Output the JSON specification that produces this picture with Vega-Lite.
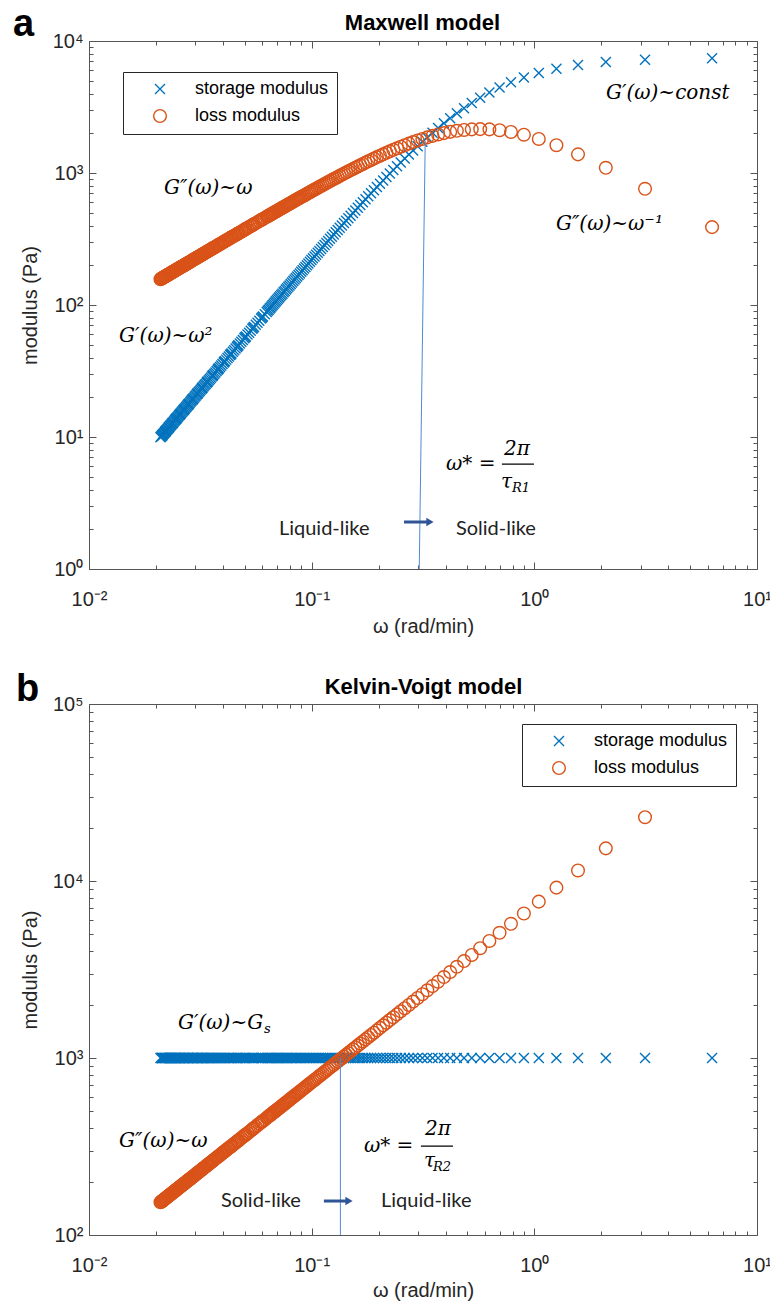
{
"$schema":"https://vega.github.io/schema/vega-lite/v6.json",
"padding":{"left":12,"top":5,"right":5,"bottom":5},
"bounds":"flush",
"spacing":135,
"config":{
 "view":{"stroke":"#555555","strokeWidth":1},
 "axis":{"labelFont":"Liberation Sans","labelFontSize":20,"labelColor":"#262626","tickColor":"#555555","tickWidth":1,"domain":false,"grid":false,"titleFont":"Liberation Sans","titleFontSize":20,"titleFontWeight":"normal","titleColor":"#262626","labelOverlap":false,"labelFlush":false}
},
"datasets":{
 "omega":[
{"w":6.2832,"sa":7388,"la":388.9,"sb":1000,"lb":45867},
{"w":3.1416,"sa":7210,"la":759.1,"sb":1000,"lb":22934},
{"w":2.0944,"sa":6931,"la":1094.6,"sb":1000,"lb":15289},
{"w":1.5708,"sa":6575,"la":1384.5,"sb":1000,"lb":11467},
{"w":1.2566,"sa":6167,"la":1623.3,"sb":1000,"lb":9173},
{"w":1.0472,"sa":5733,"la":1810.8,"sb":1000,"lb":7645},
{"w":0.8976,"sa":5293,"la":1950.3,"sb":1000,"lb":6552},
{"w":0.7854,"sa":4862,"la":2047.4,"sb":1000,"lb":5733},
{"w":0.6981,"sa":4451,"la":2108.8,"sb":1000,"lb":5096},
{"w":0.6283,"sa":4067,"la":2140.9,"sb":1000,"lb":4587},
{"w":0.5712,"sa":3713,"la":2150.0,"sb":1000,"lb":4170},
{"w":0.5236,"sa":3390,"la":2141.3,"sb":1000,"lb":3822},
{"w":0.4833,"sa":3097,"la":2119.2,"sb":1000,"lb":3528},
{"w":0.4488,"sa":2832,"la":2087.3,"sb":1000,"lb":3276},
{"w":0.4189,"sa":2594,"la":2048.5,"sb":1000,"lb":3058},
{"w":0.3927,"sa":2380.5,"la":2005.0,"sb":1000,"lb":2867},
{"w":0.3696,"sa":2188.5,"la":1958.6,"sb":1000,"lb":2698},
{"w":0.3491,"sa":2016.1,"la":1910.4,"sb":1000,"lb":2548},
{"w":0.3307,"sa":1861.1,"la":1861.5,"sb":1000,"lb":2414},
{"w":0.3142,"sa":1721.5,"la":1812.5,"sb":1000,"lb":2293},
{"w":0.2992,"sa":1595.8,"la":1764.1,"sb":1000,"lb":2184},
{"w":0.2856,"sa":1482.2,"la":1716.6,"sb":1000,"lb":2085},
{"w":0.2732,"sa":1379.5,"la":1670.2,"sb":1000,"lb":1994},
{"w":0.2618,"sa":1286.3,"la":1625.2,"sb":1000,"lb":1911},
{"w":0.2513,"sa":1201.8,"la":1581.6,"sb":1000,"lb":1835},
{"w":0.2417,"sa":1124.8,"la":1539.5,"sb":1000,"lb":1764},
{"w":0.2327,"sa":1054.6,"la":1498.9,"sb":1000,"lb":1699},
{"w":0.2244,"sa":990.4,"la":1459.9,"sb":1000,"lb":1638},
{"w":0.2167,"sa":931.7,"la":1422.4,"sb":1000,"lb":1582},
{"w":0.2094,"sa":877.8,"la":1386.3,"sb":1000,"lb":1529},
{"w":0.2027,"sa":828.3,"la":1351.7,"sb":1000,"lb":1480},
{"w":0.1963,"sa":782.7,"la":1318.5,"sb":1000,"lb":1433},
{"w":0.1904,"sa":740.6,"la":1286.6,"sb":1000,"lb":1390},
{"w":0.1848,"sa":701.7,"la":1256.0,"sb":1000,"lb":1349},
{"w":0.1795,"sa":665.7,"la":1226.6,"sb":1000,"lb":1311},
{"w":0.1745,"sa":632.4,"la":1198.4,"sb":1000,"lb":1274},
{"w":0.1698,"sa":601.4,"la":1171.3,"sb":1000,"lb":1240},
{"w":0.1653,"sa":572.5,"la":1145.3,"sb":1000,"lb":1207},
{"w":0.1611,"sa":545.7,"la":1120.3,"sb":1000,"lb":1176},
{"w":0.1571,"sa":520.6,"la":1096.3,"sb":1000,"lb":1147},
{"w":0.15325,"sa":497.2,"la":1073.1,"sb":1000,"lb":1118.7},
{"w":0.1496,"sa":475.3,"la":1050.9,"sb":1000,"lb":1092},
{"w":0.14612,"sa":454.8,"la":1029.5,"sb":1000,"lb":1066.7},
{"w":0.1428,"sa":435.5,"la":1008.8,"sb":1000,"lb":1042},
{"w":0.13963,"sa":417.5,"la":989.0,"sb":1000,"lb":1019.3},
{"w":0.1366,"sa":400.5,"la":969.8,"sb":1000,"lb":997},
{"w":0.13368,"sa":384.5,"la":951.3,"sb":1000,"lb":975.9},
{"w":0.1309,"sa":369.4,"la":933.5,"sb":1000,"lb":956},
{"w":0.12823,"sa":355.2,"la":916.3,"sb":1000,"lb":936.1},
{"w":0.1257,"sa":341.8,"la":899.6,"sb":1000,"lb":917},
{"w":0.1232,"sa":329.1,"la":883.6,"sb":1000,"lb":899.4},
{"w":0.1208,"sa":317.1,"la":868.0,"sb":1000,"lb":882},
{"w":0.11855,"sa":305.7,"la":853.0,"sb":1000,"lb":865.4},
{"w":0.1164,"sa":295.0,"la":838.5,"sb":1000,"lb":849},
{"w":0.11424,"sa":284.7,"la":824.4,"sb":1000,"lb":834.0},
{"w":0.1122,"sa":275.0,"la":810.8,"sb":1000,"lb":819},
{"w":0.11023,"sa":265.8,"la":797.6,"sb":1000,"lb":804.7},
{"w":0.1083,"sa":257.0,"la":784.8,"sb":1000,"lb":791},
{"w":0.10649,"sa":248.7,"la":772.4,"sb":1000,"lb":777.4},
{"w":0.1047,"sa":240.7,"la":760.4,"sb":1000,"lb":764},
{"w":0.103,"sa":233.1,"la":748.7,"sb":1000,"lb":751.9},
{"w":0.1013,"sa":225.9,"la":737.3,"sb":1000,"lb":740},
{"w":0.09973,"sa":219.0,"la":726.3,"sb":1000,"lb":728.0},
{"w":0.09817,"sa":212.4,"la":715.6,"sb":1000,"lb":717},
{"w":0.09666,"sa":206.1,"la":705.2,"sb":1000,"lb":705.6},
{"w":0.0952,"sa":200.1,"la":695.1,"sb":1000,"lb":695},
{"w":0.09378,"sa":194.3,"la":685.3,"sb":1000,"lb":684.6},
{"w":0.0924,"sa":188.8,"la":675.7,"sb":1000,"lb":675},
{"w":0.09106,"sa":183.5,"la":666.4,"sb":1000,"lb":664.7},
{"w":0.08976,"sa":178.4,"la":657.4,"sb":1000,"lb":655},
{"w":0.0885,"sa":173.5,"la":648.6,"sb":1000,"lb":646.0},
{"w":0.08727,"sa":168.8,"la":640.0,"sb":1000,"lb":637},
{"w":0.08607,"sa":164.3,"la":631.6,"sb":1000,"lb":628.3},
{"w":0.08491,"sa":160.0,"la":623.4,"sb":1000,"lb":620},
{"w":0.08378,"sa":155.9,"la":615.4,"sb":1000,"lb":611.6},
{"w":0.08267,"sa":151.9,"la":607.7,"sb":1000,"lb":604},
{"w":0.0816,"sa":148.0,"la":600.1,"sb":1000,"lb":595.7},
{"w":0.08055,"sa":144.3,"la":592.7,"sb":1000,"lb":588},
{"w":0.07953,"sa":140.8,"la":585.5,"sb":1000,"lb":580.6},
{"w":0.07854,"sa":137.4,"la":578.4,"sb":1000,"lb":573},
{"w":0.07757,"sa":134.0,"la":571.6,"sb":1000,"lb":566.3},
{"w":0.07662,"sa":130.9,"la":564.8,"sb":1000,"lb":559},
{"w":0.0757,"sa":127.8,"la":558.3,"sb":1000,"lb":552.6},
{"w":0.0748,"sa":124.8,"la":551.8,"sb":1000,"lb":546},
{"w":0.07392,"sa":121.9,"la":545.6,"sb":1000,"lb":539.6},
{"w":0.07306,"sa":119.2,"la":539.4,"sb":1000,"lb":533},
{"w":0.07222,"sa":116.5,"la":533.4,"sb":1000,"lb":527.2},
{"w":0.0714,"sa":113.9,"la":527.6,"sb":1000,"lb":521},
{"w":0.0706,"sa":111.4,"la":521.8,"sb":1000,"lb":515.4},
{"w":0.06981,"sa":108.9,"la":516.2,"sb":1000,"lb":510},
{"w":0.06905,"sa":106.6,"la":510.7,"sb":1000,"lb":504.0},
{"w":0.0683,"sa":104.3,"la":505.3,"sb":1000,"lb":499},
{"w":0.06756,"sa":102.1,"la":500.0,"sb":1000,"lb":493.2},
{"w":0.06684,"sa":100.0,"la":494.8,"sb":1000,"lb":488},
{"w":0.06614,"sa":97.93,"la":489.7,"sb":1000,"lb":482.8},
{"w":0.06545,"sa":95.92,"la":484.8,"sb":1000,"lb":478},
{"w":0.06478,"sa":93.98,"la":479.9,"sb":1000,"lb":472.9},
{"w":0.06411,"sa":92.10,"la":475.1,"sb":1000,"lb":468},
{"w":0.06347,"sa":90.27,"la":470.4,"sb":1000,"lb":463.3},
{"w":0.06283,"sa":88.49,"la":465.9,"sb":1000,"lb":459},
{"w":0.0616,"sa":85.10,"la":456.9,"sb":1000,"lb":449.7},
{"w":0.060415,"sa":81.89,"la":448.3,"sb":1000,"lb":441.0},
{"w":0.05984,"sa":80.35,"la":444.2,"sb":1000,"lb":437},
{"w":0.059275,"sa":78.86,"la":440.1,"sb":1000,"lb":432.7},
{"w":0.058178,"sa":76.00,"la":432.1,"sb":1000,"lb":424.7},
{"w":0.05712,"sa":73.29,"la":424.4,"sb":1000,"lb":417},
{"w":0.0561,"sa":70.72,"la":416.9,"sb":1000,"lb":409.5},
{"w":0.055116,"sa":68.28,"la":409.8,"sb":1000,"lb":402.3},
{"w":0.05464,"sa":67.11,"la":406.3,"sb":1000,"lb":399},
{"w":0.054165,"sa":65.97,"la":402.8,"sb":1000,"lb":395.4},
{"w":0.053247,"sa":63.77,"la":396.1,"sb":1000,"lb":388.7},
{"w":0.05236,"sa":61.68,"la":389.6,"sb":1000,"lb":382},
{"w":0.051502,"sa":59.69,"la":383.3,"sb":1000,"lb":376.0},
{"w":0.050671,"sa":57.79,"la":377.3,"sb":1000,"lb":369.9},
{"w":0.05027,"sa":56.88,"la":374.3,"sb":1000,"lb":367},
{"w":0.049866,"sa":55.99,"la":371.4,"sb":1000,"lb":364.0},
{"w":0.049087,"sa":54.26,"la":365.6,"sb":1000,"lb":358.3},
{"w":0.04833,"sa":52.62,"la":360.1,"sb":1000,"lb":353},
{"w":0.0476,"sa":51.05,"la":354.7,"sb":1000,"lb":347.5},
{"w":0.046889,"sa":49.54,"la":349.5,"sb":1000,"lb":342.3},
{"w":0.04654,"sa":48.82,"la":346.9,"sb":1000,"lb":340},
{"w":0.0462,"sa":48.11,"la":344.4,"sb":1000,"lb":337.3},
{"w":0.04553,"sa":46.73,"la":339.5,"sb":1000,"lb":332.4},
{"w":0.04488,"sa":45.41,"la":334.7,"sb":1000,"lb":328},
{"w":0.044248,"sa":44.15,"la":330.0,"sb":1000,"lb":323.0},
{"w":0.043633,"sa":42.94,"la":325.5,"sb":1000,"lb":318.5},
{"w":0.04333,"sa":42.35,"la":323.3,"sb":1000,"lb":316},
{"w":0.043035,"sa":41.78,"la":321.1,"sb":1000,"lb":314.2},
{"w":0.042454,"sa":40.66,"la":316.8,"sb":1000,"lb":309.9},
{"w":0.04189,"sa":39.59,"la":312.6,"sb":1000,"lb":306},
{"w":0.041337,"sa":38.56,"la":308.6,"sb":1000,"lb":301.8},
{"w":0.0408,"sa":37.57,"la":304.6,"sb":1000,"lb":297.8},
{"w":0.04054,"sa":37.09,"la":302.7,"sb":1000,"lb":296},
{"w":0.040277,"sa":36.62,"la":300.7,"sb":1000,"lb":294.0},
{"w":0.039767,"sa":35.70,"la":297.0,"sb":1000,"lb":290.3},
{"w":0.03927,"sa":34.82,"la":293.3,"sb":1000,"lb":287},
{"w":0.038785,"sa":33.97,"la":289.7,"sb":1000,"lb":283.1},
{"w":0.038312,"sa":33.15,"la":286.2,"sb":1000,"lb":279.7},
{"w":0.03808,"sa":32.75,"la":284.5,"sb":1000,"lb":278},
{"w":0.037851,"sa":32.36,"la":282.8,"sb":1000,"lb":276.3},
{"w":0.0374,"sa":31.60,"la":279.4,"sb":1000,"lb":273.0},
{"w":0.03696,"sa":30.86,"la":276.2,"sb":1000,"lb":270},
{"w":0.03653,"sa":30.15,"la":273.0,"sb":1000,"lb":266.7},
{"w":0.03611,"sa":29.46,"la":269.9,"sb":1000,"lb":263.6},
{"w":0.0359,"sa":29.13,"la":268.4,"sb":1000,"lb":262},
{"w":0.0357,"sa":28.80,"la":266.8,"sb":1000,"lb":260.6},
{"w":0.035299,"sa":28.16,"la":263.9,"sb":1000,"lb":257.7},
{"w":0.03491,"sa":27.54,"la":261.0,"sb":1000,"lb":255},
{"w":0.034523,"sa":26.94,"la":258.1,"sb":1000,"lb":252.0},
{"w":0.034148,"sa":26.36,"la":255.3,"sb":1000,"lb":249.3},
{"w":0.03396,"sa":26.08,"la":253.9,"sb":1000,"lb":248},
{"w":0.033781,"sa":25.80,"la":252.6,"sb":1000,"lb":246.6},
{"w":0.033421,"sa":25.25,"la":249.9,"sb":1000,"lb":244.0},
{"w":0.03307,"sa":24.73,"la":247.3,"sb":1000,"lb":241},
{"w":0.032725,"sa":24.21,"la":244.7,"sb":1000,"lb":238.9},
{"w":0.032388,"sa":23.72,"la":242.2,"sb":1000,"lb":236.4},
{"w":0.03222,"sa":23.48,"la":241.0,"sb":1000,"lb":235},
{"w":0.032057,"sa":23.24,"la":239.8,"sb":1000,"lb":234.0},
{"w":0.031733,"sa":22.77,"la":237.4,"sb":1000,"lb":231.7},
{"w":0.03142,"sa":22.32,"la":235.0,"sb":1000,"lb":229},
{"w":0.031105,"sa":21.88,"la":232.7,"sb":1000,"lb":227.1},
{"w":0.0308,"sa":21.46,"la":230.4,"sb":1000,"lb":224.8},
{"w":0.03065,"sa":21.25,"la":229.3,"sb":1000,"lb":224},
{"w":0.030501,"sa":21.04,"la":228.2,"sb":1000,"lb":222.7},
{"w":0.030208,"sa":20.64,"la":226.0,"sb":1000,"lb":220.5},
{"w":0.02992,"sa":20.25,"la":223.9,"sb":1000,"lb":218},
{"w":0.029638,"sa":19.87,"la":221.8,"sb":1000,"lb":216.4},
{"w":0.029361,"sa":19.50,"la":219.7,"sb":1000,"lb":214.3},
{"w":0.02922,"sa":19.32,"la":218.7,"sb":1000,"lb":213},
{"w":0.029089,"sa":19.15,"la":217.7,"sb":1000,"lb":212.3},
{"w":0.028822,"sa":18.80,"la":215.7,"sb":1000,"lb":210.4},
{"w":0.02856,"sa":18.46,"la":213.8,"sb":1000,"lb":208},
{"w":0.028303,"sa":18.13,"la":211.8,"sb":1000,"lb":206.6},
{"w":0.02805,"sa":17.81,"la":210.0,"sb":1000,"lb":204.8},
{"w":0.02793,"sa":17.65,"la":209.0,"sb":1000,"lb":204},
{"w":0.027802,"sa":17.49,"la":208.1,"sb":1000,"lb":203.0},
{"w":0.027558,"sa":17.19,"la":206.3,"sb":1000,"lb":201.2},
{"w":0.02732,"sa":16.89,"la":204.5,"sb":1000,"lb":199},
{"w":0.027083,"sa":16.60,"la":202.8,"sb":1000,"lb":197.7},
{"w":0.026851,"sa":16.32,"la":201.0,"sb":1000,"lb":196.0},
{"w":0.02674,"sa":16.18,"la":200.2,"sb":1000,"lb":195},
{"w":0.026624,"sa":16.04,"la":199.3,"sb":1000,"lb":194.4},
{"w":0.0264,"sa":15.78,"la":197.7,"sb":1000,"lb":192.7},
{"w":0.02618,"sa":15.52,"la":196.0,"sb":1000,"lb":191},
{"w":0.025964,"sa":15.26,"la":194.4,"sb":1000,"lb":189.5},
{"w":0.025751,"sa":15.01,"la":192.8,"sb":1000,"lb":188.0},
{"w":0.02565,"sa":14.89,"la":192.0,"sb":1000,"lb":187},
{"w":0.025541,"sa":14.77,"la":191.3,"sb":1000,"lb":186.5},
{"w":0.025335,"sa":14.53,"la":189.7,"sb":1000,"lb":184.9},
{"w":0.02513,"sa":14.30,"la":188.2,"sb":1000,"lb":183},
{"w":0.024933,"sa":14.08,"la":186.7,"sb":1000,"lb":182.0},
{"w":0.024737,"sa":13.86,"la":185.3,"sb":1000,"lb":180.6},
{"w":0.02464,"sa":13.75,"la":184.5,"sb":1000,"lb":180},
{"w":0.024544,"sa":13.64,"la":183.8,"sb":1000,"lb":179.2},
{"w":0.024353,"sa":13.43,"la":182.4,"sb":1000,"lb":177.8},
{"w":0.02417,"sa":13.22,"la":181.0,"sb":1000,"lb":176},
{"w":0.023981,"sa":13.02,"la":179.6,"sb":1000,"lb":175.1},
{"w":0.0238,"sa":12.83,"la":178.3,"sb":1000,"lb":173.7},
{"w":0.02371,"sa":12.73,"la":177.6,"sb":1000,"lb":173},
{"w":0.023621,"sa":12.64,"la":176.9,"sb":1000,"lb":172.4},
{"w":0.023445,"sa":12.45,"la":175.6,"sb":1000,"lb":171.1},
{"w":0.02327,"sa":12.26,"la":174.3,"sb":1000,"lb":170},
{"w":0.0231,"sa":12.09,"la":173.0,"sb":1000,"lb":168.6},
{"w":0.022931,"sa":11.91,"la":171.8,"sb":1000,"lb":167.4},
{"w":0.02285,"sa":11.82,"la":171.2,"sb":1000,"lb":167},
{"w":0.022765,"sa":11.74,"la":170.5,"sb":1000,"lb":166.2},
{"w":0.022601,"sa":11.57,"la":169.3,"sb":1000,"lb":165.0},
{"w":0.02244,"sa":11.41,"la":168.1,"sb":1000,"lb":164},
{"w":0.022281,"sa":11.24,"la":166.9,"sb":1000,"lb":162.6},
{"w":0.022124,"sa":11.09,"la":165.8,"sb":1000,"lb":161.5},
{"w":0.02205,"sa":11.01,"la":165.2,"sb":1000,"lb":161},
{"w":0.021969,"sa":10.93,"la":164.6,"sb":1000,"lb":160.4},
{"w":0.021817,"sa":10.78,"la":163.5,"sb":1000,"lb":159.3},
{"w":0.02167,"sa":10.63,"la":162.3,"sb":1000,"lb":158},
{"w":0.021518,"sa":10.49,"la":161.2,"sb":1000,"lb":157.1},
{"w":0.021371,"sa":10.35,"la":160.1,"sb":1000,"lb":156.0},
{"w":0.0213,"sa":10.28,"la":159.6,"sb":1000,"lb":155},
{"w":0.021227,"sa":10.21,"la":159.1,"sb":1000,"lb":155.0},
{"w":0.021084,"sa":10.07,"la":158.0,"sb":1000,"lb":153.9},
{"w":0.02094,"sa":9.94,"la":156.9,"sb":1000,"lb":153}
 ],
 "notes_a":[
{"kind":"title","t":"Maxwell model","w":0.3144,"G":13680},
{"kind":"math","t":"G″(ω)~ω","w":0.02172,"G":770},
{"kind":"math","t":"G′(ω)~ω²","w":0.01365,"G":58.2},
{"kind":"math","t":"G′(ω)~const","w":2.097,"G":4036},
{"kind":"math","t":"G″(ω)~ω⁻¹","w":1.25,"G":411},
{"kind":"math","t":"ω* =","w":0.401,"G":6.24},
{"kind":"math","t":"2π","w":0.7304,"G":8.11},
{"kind":"math","t":"τ","w":0.708,"G":4.56},
{"kind":"sub","t":"R1","w":0.793,"G":4.11},
{"kind":"bar","w":0.715,"w2":0.996,"G":6.24},
{"kind":"plain","t":"Liquid-like","w":0.0713,"G":2.01},
{"kind":"plain","t":"Solid-like","w":0.4446,"G":2.01},
{"kind":"arrow","w":0.2598,"w2":0.3362,"G":2.27},
{"kind":"head","w":0.3398,"G":2.27},
{"kind":"vline","w":0.3236,"G":1746,"w2":0.3042,"G2":1},
{"kind":"letter","t":"a","w":0.00456,"G":10910}
 ],
 "notes_b":[
{"kind":"title","t":"Kelvin-Voigt model","w":0.3177,"G":124700},
{"kind":"math","t":"G′(ω)~G","w":0.0251,"G":1577},
{"kind":"sub","t":"s","w":0.0611,"G":1458},
{"kind":"math","t":"G″(ω)~ω","w":0.01365,"G":339.6},
{"kind":"math","t":"ω* =","w":0.1717,"G":318},
{"kind":"math","t":"2π","w":0.3227,"G":397},
{"kind":"math","t":"τ","w":0.3196,"G":261.8},
{"kind":"sub","t":"R2","w":0.3505,"G":242.2},
{"kind":"bar","w":0.3095,"w2":0.4311,"G":318},
{"kind":"plain","t":"Solid-like","w":0.03915,"G":155.6},
{"kind":"plain","t":"Liquid-like","w":0.2048,"G":155.6},
{"kind":"arrow","w":0.1135,"w2":0.1455,"G":155.6},
{"kind":"head","w":0.1471,"G":155.6},
{"kind":"vline","w":0.1346,"G":1000,"w2":0.1346,"G2":100},
{"kind":"letter","t":"b","w":0.0047,"G":104000}
 ]
},
"resolve":{"scale":{"color":"independent","shape":"independent","size":"independent"},"legend":{"color":"independent","shape":"independent","size":"independent"}},
"vconcat":[
{
 "width":668,"height":528,
 "resolve":{"axis":{"x":"independent","y":"independent"}},
 "layer":[
  {
   "data":{"name":"omega"},
   "transform":[{"fold":["sa","la"],"as":["series","G"]}],
   "mark":{"type":"point","filled":false,"strokeWidth":1.4,"opacity":1},
   "encoding":{
    "x":{"field":"w","type":"quantitative","scale":{"type":"log","domain":[0.01,10],"nice":false},
     "axis":{"orient":"bottom","values":[0.01,0.1,1,10],"labelExpr":"datum.value < 0.05 ? '10⁻²' : datum.value < 0.5 ? '10⁻¹' : datum.value < 5 ? '10⁰' : '10¹'","tickSize":-7,"labelPadding":27,"title":"ω (rad/min)","titlePadding":7}},
    "y":{"field":"G","type":"quantitative","scale":{"type":"log","domain":[1,10000],"nice":false},
     "axis":{"orient":"left","values":[1,10,100,1000,10000],"labelExpr":"datum.value < 5 ? '10⁰' : datum.value < 50 ? '10¹' : datum.value < 500 ? '10²' : datum.value < 5000 ? '10³' : '10⁴'","tickSize":-7,"labelPadding":13,"title":"modulus (Pa)","titlePadding":12}},
    "color":{"field":"series","type":"nominal","scale":{"domain":["sa","la"],"range":["#0072BD","#D95319"]},
     "legend":{"title":null,"orient":"none","legendX":34,"legendY":31,"fillColor":"#ffffff","strokeColor":"#262626","padding":8,"symbolOffset":20,"labelOffset":26,"labelFontSize":18,"labelFont":"Liberation Sans","labelColor":"#000000","rowPadding":8,"symbolStrokeWidth":1.4,"labelExpr":"datum.value == 'sa' ? 'storage modulus' : 'loss modulus'"}},
    "shape":{"field":"series","type":"nominal","scale":{"domain":["sa","la"],"range":["M-1,-1L1,1M-1,1L1,-1","circle"]},
     "legend":{"title":null,"orient":"none","legendX":34,"legendY":31,"fillColor":"#ffffff","strokeColor":"#262626","padding":8,"symbolOffset":20,"labelOffset":26,"labelFontSize":18,"labelFont":"Liberation Sans","labelColor":"#000000","rowPadding":8,"symbolStrokeWidth":1.4,"labelExpr":"datum.value == 'sa' ? 'storage modulus' : 'loss modulus'"}},
    "size":{"field":"series","type":"nominal","scale":{"domain":["sa","la"],"range":[100,160]},
     "legend":{"title":null,"orient":"none","legendX":34,"legendY":31,"fillColor":"#ffffff","strokeColor":"#262626","padding":8,"symbolOffset":20,"labelOffset":26,"labelFontSize":18,"labelFont":"Liberation Sans","labelColor":"#000000","rowPadding":8,"symbolStrokeWidth":1.4,"labelExpr":"datum.value == 'sa' ? 'storage modulus' : 'loss modulus'"}},
    "order":{"field":"series","sort":"descending"}
   }
  },
  {
   "data":{"name":"notes_a"},
   "transform":[{"filter":"datum.kind == 'vline'"}],
   "mark":{"type":"rule","color":"#4F8BD0","strokeWidth":1},
   "encoding":{
    "x":{"field":"w","type":"quantitative","axis":{"orient":"bottom","values":[0.02,0.03,0.04,0.05,0.06,0.07,0.08,0.09,0.2,0.3,0.4,0.5,0.6,0.7,0.8,0.9,2,3,4,5,6,7,8,9],"tickSize":-4,"labels":false,"title":null}},
    "x2":{"field":"w2"},
    "y":{"field":"G","type":"quantitative","axis":{"orient":"left","values":[2,3,4,5,6,7,8,9,20,30,40,50,60,70,80,90,200,300,400,500,600,700,800,900,2000,3000,4000,5000,6000,7000,8000,9000],"tickSize":-4,"labels":false,"title":null}},
    "y2":{"field":"G2"}
   }
  },
  {
   "data":{"name":"notes_a"},
   "transform":[{"filter":"datum.kind == 'arrow'"}],
   "mark":{"type":"rule","color":"#2F5597","strokeWidth":3},
   "encoding":{
    "x":{"field":"w","type":"quantitative","axis":{"orient":"top","values":[0.01,0.1,1,10],"tickSize":-7,"labels":false,"title":null}},
    "x2":{"field":"w2"},
    "y":{"field":"G","type":"quantitative","axis":{"orient":"right","values":[1,10,100,1000,10000],"tickSize":-7,"labels":false,"title":null}}
   }
  },
  {
   "data":{"name":"notes_a"},
   "transform":[{"filter":"datum.kind == 'head'"}],
   "mark":{"type":"point","shape":"triangle-right","filled":true,"color":"#2F5597","size":70,"opacity":1},
   "encoding":{
    "x":{"field":"w","type":"quantitative","axis":{"orient":"top","values":[0.02,0.03,0.04,0.05,0.06,0.07,0.08,0.09,0.2,0.3,0.4,0.5,0.6,0.7,0.8,0.9,2,3,4,5,6,7,8,9],"tickSize":-4,"labels":false,"title":null}},
    "y":{"field":"G","type":"quantitative","axis":{"orient":"right","values":[2,3,4,5,6,7,8,9,20,30,40,50,60,70,80,90,200,300,400,500,600,700,800,900,2000,3000,4000,5000,6000,7000,8000,9000],"tickSize":-4,"labels":false,"title":null}}
   }
  },
  {
   "data":{"name":"notes_a"},
   "transform":[{"filter":"datum.kind == 'bar'"}],
   "mark":{"type":"rule","color":"#000000","strokeWidth":1.2},
   "encoding":{"x":{"field":"w","type":"quantitative","axis":null},"x2":{"field":"w2"},"y":{"field":"G","type":"quantitative","axis":null}}
  },
  {
   "data":{"name":"notes_a"},
   "transform":[{"filter":"datum.kind == 'math'"}],
   "mark":{"type":"text","font":"DejaVu Serif","fontStyle":"italic","fontSize":20,"align":"left","baseline":"middle","color":"#000000"},
   "encoding":{"x":{"field":"w","type":"quantitative","axis":null},"y":{"field":"G","type":"quantitative","axis":null},"text":{"field":"t"}}
  },
  {
   "data":{"name":"notes_a"},
   "transform":[{"filter":"datum.kind == 'sub'"}],
   "mark":{"type":"text","font":"DejaVu Serif","fontStyle":"italic","fontSize":13,"align":"left","baseline":"middle","color":"#000000"},
   "encoding":{"x":{"field":"w","type":"quantitative","axis":null},"y":{"field":"G","type":"quantitative","axis":null},"text":{"field":"t"}}
  },
  {
   "data":{"name":"notes_a"},
   "transform":[{"filter":"datum.kind == 'plain'"}],
   "mark":{"type":"text","font":"Lato","fontSize":20,"align":"left","baseline":"middle","color":"#222222"},
   "encoding":{"x":{"field":"w","type":"quantitative","axis":null},"y":{"field":"G","type":"quantitative","axis":null},"text":{"field":"t"}}
  },
  {
   "data":{"name":"notes_a"},
   "transform":[{"filter":"datum.kind == 'title'"}],
   "mark":{"type":"text","font":"Liberation Sans","fontWeight":"bold","fontSize":22,"align":"center","baseline":"middle","color":"#000000"},
   "encoding":{"x":{"field":"w","type":"quantitative","axis":null},"y":{"field":"G","type":"quantitative","axis":null},"text":{"field":"t"}}
  },
  {
   "data":{"name":"notes_a"},
   "transform":[{"filter":"datum.kind == 'letter'"}],
   "mark":{"type":"text","font":"Liberation Sans","fontWeight":"bold","fontSize":38,"align":"left","baseline":"alphabetic","color":"#000000"},
   "encoding":{"x":{"field":"w","type":"quantitative","axis":null},"y":{"field":"G","type":"quantitative","axis":null},"text":{"field":"t"}}
  }
 ]
},
{
 "width":668,"height":531,
 "resolve":{"axis":{"x":"independent","y":"independent"}},
 "layer":[
  {
   "data":{"name":"omega"},
   "transform":[{"fold":["sb","lb"],"as":["series","G"]}],
   "mark":{"type":"point","filled":false,"strokeWidth":1.4,"opacity":1},
   "encoding":{
    "x":{"field":"w","type":"quantitative","scale":{"type":"log","domain":[0.01,10],"nice":false},
     "axis":{"orient":"bottom","values":[0.01,0.1,1,10],"labelExpr":"datum.value < 0.05 ? '10⁻²' : datum.value < 0.5 ? '10⁻¹' : datum.value < 5 ? '10⁰' : '10¹'","tickSize":-7,"labelPadding":27,"title":"ω (rad/min)","titlePadding":5}},
    "y":{"field":"G","type":"quantitative","scale":{"type":"log","domain":[100,100000],"nice":false},
     "axis":{"orient":"left","values":[100,1000,10000,100000],"labelExpr":"datum.value < 500 ? '10²' : datum.value < 5000 ? '10³' : datum.value < 50000 ? '10⁴' : '10⁵'","tickSize":-7,"labelPadding":13,"title":"modulus (Pa)","titlePadding":12}},
    "color":{"field":"series","type":"nominal","scale":{"domain":["sb","lb"],"range":["#0072BD","#D95319"]},
     "legend":{"title":null,"orient":"none","legendX":433,"legendY":20,"fillColor":"#ffffff","strokeColor":"#262626","padding":8,"symbolOffset":20,"labelOffset":26,"labelFontSize":18,"labelFont":"Liberation Sans","labelColor":"#000000","rowPadding":8,"symbolStrokeWidth":1.4,"labelExpr":"datum.value == 'sb' ? 'storage modulus' : 'loss modulus'"}},
    "shape":{"field":"series","type":"nominal","scale":{"domain":["sb","lb"],"range":["M-1,-1L1,1M-1,1L1,-1","circle"]},
     "legend":{"title":null,"orient":"none","legendX":433,"legendY":20,"fillColor":"#ffffff","strokeColor":"#262626","padding":8,"symbolOffset":20,"labelOffset":26,"labelFontSize":18,"labelFont":"Liberation Sans","labelColor":"#000000","rowPadding":8,"symbolStrokeWidth":1.4,"labelExpr":"datum.value == 'sb' ? 'storage modulus' : 'loss modulus'"}},
    "size":{"field":"series","type":"nominal","scale":{"domain":["sb","lb"],"range":[100,160]},
     "legend":{"title":null,"orient":"none","legendX":433,"legendY":20,"fillColor":"#ffffff","strokeColor":"#262626","padding":8,"symbolOffset":20,"labelOffset":26,"labelFontSize":18,"labelFont":"Liberation Sans","labelColor":"#000000","rowPadding":8,"symbolStrokeWidth":1.4,"labelExpr":"datum.value == 'sb' ? 'storage modulus' : 'loss modulus'"}},
    "order":{"field":"series","sort":"descending"}
   }
  },
  {
   "data":{"name":"notes_b"},
   "transform":[{"filter":"datum.kind == 'vline'"}],
   "mark":{"type":"rule","color":"#4F8BD0","strokeWidth":1},
   "encoding":{
    "x":{"field":"w","type":"quantitative","axis":{"orient":"bottom","values":[0.02,0.03,0.04,0.05,0.06,0.07,0.08,0.09,0.2,0.3,0.4,0.5,0.6,0.7,0.8,0.9,2,3,4,5,6,7,8,9],"tickSize":-4,"labels":false,"title":null}},
    "x2":{"field":"w2"},
    "y":{"field":"G","type":"quantitative","axis":{"orient":"left","values":[200,300,400,500,600,700,800,900,2000,3000,4000,5000,6000,7000,8000,9000,20000,30000,40000,50000,60000,70000,80000,90000],"tickSize":-4,"labels":false,"title":null}},
    "y2":{"field":"G2"}
   }
  },
  {
   "data":{"name":"notes_b"},
   "transform":[{"filter":"datum.kind == 'arrow'"}],
   "mark":{"type":"rule","color":"#2F5597","strokeWidth":3},
   "encoding":{
    "x":{"field":"w","type":"quantitative","axis":{"orient":"top","values":[0.01,0.1,1,10],"tickSize":-7,"labels":false,"title":null}},
    "x2":{"field":"w2"},
    "y":{"field":"G","type":"quantitative","axis":{"orient":"right","values":[100,1000,10000,100000],"tickSize":-7,"labels":false,"title":null}}
   }
  },
  {
   "data":{"name":"notes_b"},
   "transform":[{"filter":"datum.kind == 'head'"}],
   "mark":{"type":"point","shape":"triangle-right","filled":true,"color":"#2F5597","size":70,"opacity":1},
   "encoding":{
    "x":{"field":"w","type":"quantitative","axis":{"orient":"top","values":[0.02,0.03,0.04,0.05,0.06,0.07,0.08,0.09,0.2,0.3,0.4,0.5,0.6,0.7,0.8,0.9,2,3,4,5,6,7,8,9],"tickSize":-4,"labels":false,"title":null}},
    "y":{"field":"G","type":"quantitative","axis":{"orient":"right","values":[200,300,400,500,600,700,800,900,2000,3000,4000,5000,6000,7000,8000,9000,20000,30000,40000,50000,60000,70000,80000,90000],"tickSize":-4,"labels":false,"title":null}}
   }
  },
  {
   "data":{"name":"notes_b"},
   "transform":[{"filter":"datum.kind == 'bar'"}],
   "mark":{"type":"rule","color":"#000000","strokeWidth":1.2},
   "encoding":{"x":{"field":"w","type":"quantitative","axis":null},"x2":{"field":"w2"},"y":{"field":"G","type":"quantitative","axis":null}}
  },
  {
   "data":{"name":"notes_b"},
   "transform":[{"filter":"datum.kind == 'math'"}],
   "mark":{"type":"text","font":"DejaVu Serif","fontStyle":"italic","fontSize":20,"align":"left","baseline":"middle","color":"#000000"},
   "encoding":{"x":{"field":"w","type":"quantitative","axis":null},"y":{"field":"G","type":"quantitative","axis":null},"text":{"field":"t"}}
  },
  {
   "data":{"name":"notes_b"},
   "transform":[{"filter":"datum.kind == 'sub'"}],
   "mark":{"type":"text","font":"DejaVu Serif","fontStyle":"italic","fontSize":13,"align":"left","baseline":"middle","color":"#000000"},
   "encoding":{"x":{"field":"w","type":"quantitative","axis":null},"y":{"field":"G","type":"quantitative","axis":null},"text":{"field":"t"}}
  },
  {
   "data":{"name":"notes_b"},
   "transform":[{"filter":"datum.kind == 'plain'"}],
   "mark":{"type":"text","font":"Lato","fontSize":20,"align":"left","baseline":"middle","color":"#222222"},
   "encoding":{"x":{"field":"w","type":"quantitative","axis":null},"y":{"field":"G","type":"quantitative","axis":null},"text":{"field":"t"}}
  },
  {
   "data":{"name":"notes_b"},
   "transform":[{"filter":"datum.kind == 'title'"}],
   "mark":{"type":"text","font":"Liberation Sans","fontWeight":"bold","fontSize":22,"align":"center","baseline":"middle","color":"#000000"},
   "encoding":{"x":{"field":"w","type":"quantitative","axis":null},"y":{"field":"G","type":"quantitative","axis":null},"text":{"field":"t"}}
  },
  {
   "data":{"name":"notes_b"},
   "transform":[{"filter":"datum.kind == 'letter'"}],
   "mark":{"type":"text","font":"Liberation Sans","fontWeight":"bold","fontSize":38,"align":"left","baseline":"alphabetic","color":"#000000"},
   "encoding":{"x":{"field":"w","type":"quantitative","axis":null},"y":{"field":"G","type":"quantitative","axis":null},"text":{"field":"t"}}
  }
 ]
}
]
}
